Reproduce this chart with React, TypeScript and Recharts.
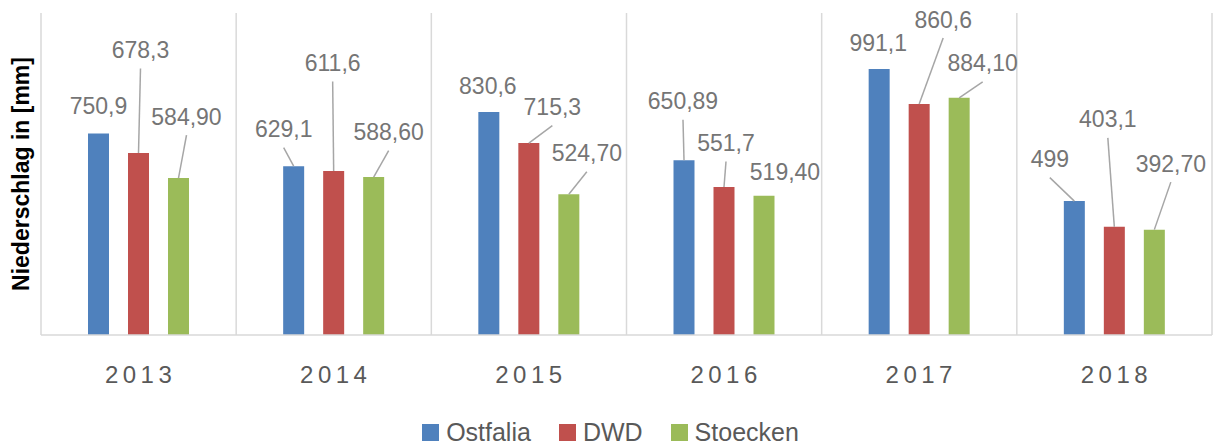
import React from "react";
import { BarChart, Bar, XAxis, YAxis, CartesianGrid, LabelList, Legend } from "recharts";

const years = ["2013", "2014", "2015", "2016", "2017", "2018"];
const ostfalia = [750.9, 629.1, 830.6, 650.89, 991.1, 499];
const dwd = [678.3, 611.6, 715.3, 551.7, 860.6, 403.1];
const stoecken = [584.9, 588.6, 524.7, 519.4, 884.1, 392.7];
const seriesNames = ["Ostfalia", "DWD", "Stoecken"];

const data = years.map((year, i) => ({
  year,
  Ostfalia: ostfalia[i],
  DWD: dwd[i],
  Stoecken: stoecken[i],
}));

// manual label placement (offset of the label centre from the top of its bar), as in the source chart
const ostfaliaLabelOffsets = [[0, -27.5], [-10, -37], [-1, -26.5], [-1, -59], [-1, -26.5], [-24.5, -42]];
const dwdLabelOffsets = [[2, -103], [-1, -108], [23.5, -36], [2, -44], [24, -84.5], [-6.5, -107.5]];
const stoeckenLabelOffsets = [[8, -61.5], [15, -45], [18, -41], [21, -24], [23.5, -34.5], [16.5, -66]];

const COLORS: Record<string, string> = { Ostfalia: "#4f81bd", DWD: "#c0504d", Stoecken: "#9bbb59" };
const FONT = "'Liberation Sans', Arial, sans-serif";

const fmtPlain = (v: number) => String(v).replace(".", ",");
const fmtTwo = (v: number) => v.toFixed(2).replace(".", ",");

function makeLabel(offsets: number[][], fmt: (v: number) => string) {
  return (props: any) => {
    const { x, y, width, value, index } = props;
    const bx = Number(x) + Number(width) / 2;
    const by = Number(y);
    const [dx, dy] = offsets[index];
    const cx = bx + dx;
    const cy = by + dy;
    const startY = cy + 18.5;
    const showLeader = by - startY > 12;
    return (
      <g>
        {showLeader && (
          <line x1={cx} y1={startY} x2={bx} y2={by} stroke="#a6a6a6" strokeWidth={1.5} />
        )}
        <text x={cx} y={cy + 8} textAnchor="middle" fontFamily={FONT} fontSize={23} fill="#757575">
          {fmt(Number(value))}
        </text>
      </g>
    );
  };
}

const YearTick = (props: any) => {
  const { x, y, payload } = props;
  return (
    <text x={x + 2} y={y + 48} textAnchor="middle" fontFamily={FONT} fontSize={24} fill="#595959" letterSpacing={4.5}>
      {payload.value}
    </text>
  );
};

const YLabel = (props: any) => {
  const vb = props.viewBox || { x: 0, y: 13, width: 41, height: 322 };
  const cx = vb.x + 21;
  const cy = vb.y + vb.height / 2;
  return (
    <text
      x={cx}
      y={cy}
      transform={`rotate(-90 ${cx} ${cy})`}
      textAnchor="middle"
      dominantBaseline="central"
      fontFamily={FONT}
      fontWeight="bold"
      fontSize={23}
      fill="#000000"
    >
      Niederschlag in [mm]
    </text>
  );
};

const LegendContent = (props: any) => {
  const items = [...(props.payload || [])].sort(
    (a: any, b: any) => seriesNames.indexOf(a.value) - seriesNames.indexOf(b.value)
  );
  return (
    <div
      style={{
        display: "flex",
        justifyContent: "center",
        alignItems: "center",
        height: 30,
        paddingLeft: 9,
        fontFamily: FONT,
        fontSize: 25,
        color: "#595959",
      }}
    >
      {items.map((it: any, i: number) => (
        <div key={i} style={{ display: "flex", alignItems: "center", marginLeft: i === 0 ? 0 : 28 }}>
          <div style={{ width: 17, height: 17, background: it.color, marginRight: 7 }} />
          <span>{it.value}</span>
        </div>
      ))}
    </div>
  );
};

// vertical separators at category boundaries (one per band edge)
const categoryBoundaries = (props: any) => {
  const off = props.offset || { left: 41, width: 1171 };
  return Array.from({ length: years.length + 1 }, (_, i) => off.left + (off.width * i) / years.length);
};

export default function App() {
  return (
    <div style={{ position: "absolute", left: 0, top: 0, width: 1214, height: 447, background: "#ffffff" }}>
      <BarChart
        width={1214}
        height={447}
        data={data}
        margin={{ top: 13, right: 2, left: 0, bottom: 0 }}
        barSize={21}
        barGap={19}
      >
        <CartesianGrid
          horizontal={false}
          vertical={true}
          stroke="#d9d9d9"
          strokeWidth={1.5}
          verticalCoordinatesGenerator={categoryBoundaries}
        />
        <XAxis
          dataKey="year"
          height={82}
          tickLine={false}
          tickSize={0}
          tickMargin={0}
          axisLine={{ stroke: "#d9d9d9", strokeWidth: 1.5 }}
          tick={<YearTick />}
          interval={0}
        />
        <YAxis
          width={41}
          domain={[0, 1200]}
          axisLine={false}
          tickLine={false}
          tick={false}
          label={<YLabel />}
        />
        <Legend verticalAlign="bottom" align="center" height={30} content={<LegendContent />} />
        {seriesNames.map((name, si) => (
          <Bar key={name} dataKey={name} fill={COLORS[name]} isAnimationActive={false}>
            <LabelList
              dataKey={name}
              content={makeLabel(
                [ostfaliaLabelOffsets, dwdLabelOffsets, stoeckenLabelOffsets][si],
                si === 2 ? fmtTwo : fmtPlain
              )}
            />
          </Bar>
        ))}
      </BarChart>
    </div>
  );
}
